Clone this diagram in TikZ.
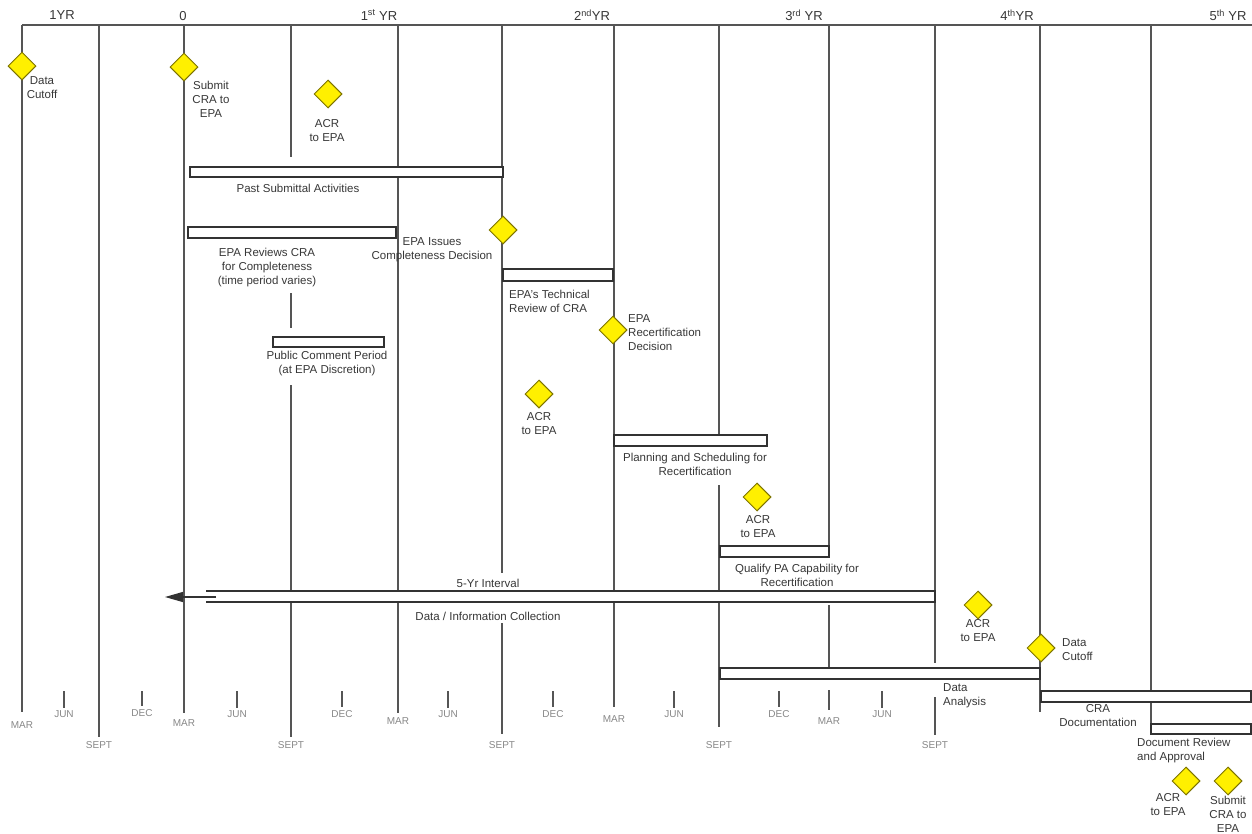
\documentclass[tikz,border=0pt]{standalone}
\usepackage{fontspec}
\setmainfont{Liberation Sans}
\usetikzlibrary{shapes.geometric, arrows.meta}
\definecolor{msfill}{RGB}{255,240,0}
\definecolor{msedge}{RGB}{125,115,0}
\definecolor{gridgray}{RGB}{85,85,85}
\definecolor{barline}{RGB}{50,50,50}
\definecolor{txt}{RGB}{55,55,55}
\definecolor{mongray}{RGB}{135,135,135}

\begin{document}
\begin{tikzpicture}[x=1pt, y=-1pt,
	ms/.style={diamond, draw=msedge, fill=msfill, line width=1pt, minimum width=28pt, minimum height=28pt, inner sep=0pt},
	bar/.style={draw=barline, fill=white, line width=1.2pt},
	yrline/.style={draw=gridgray, line width=1.3pt},
	lbl/.style={text=txt, font=\fontsize{11.5}{14}\selectfont, align=center, inner sep=0pt},
	mon/.style={text=mongray, font=\fontsize{10}{12}\selectfont, inner sep=0pt},
	yr/.style={text=txt, font=\fontsize{13}{15}\selectfont, inner sep=0pt}]
	\useasboundingbox (0,0) rectangle (1252,833);

	% year header
	\begin{scope}
		\draw[yrline] (22,25) -- (1252,25);
		\node[yr] (yrm1) at (62,15) {1YR};
		\node[yr] (yr0) at (183,16) {0};
		\node[yr] (yr1) at (379,15) {1\textsuperscript{st} YR};
		\node[yr] (yr2) at (592,15) {2\textsuperscript{nd}YR};
		\node[yr] (yr3) at (804,15) {3\textsuperscript{rd} YR};
		\node[yr] (yr4) at (1017,15) {4\textsuperscript{th}YR};
		\node[yr] (yr5) at (1228,15) {5\textsuperscript{th} YR};
	\end{scope}

	% month lines
	\draw[yrline] (22,25) -- (22,712);
	\draw[yrline] (99,25) -- (99,737);
	\draw[yrline] (184,25) -- (184,713);
	\draw[yrline] (291,25) -- (291,157);
	\draw[yrline] (291,293) -- (291,328);
	\draw[yrline] (291,385) -- (291,737);
	\draw[yrline] (398,25) -- (398,713);
	\draw[yrline] (502,25) -- (502,573);
	\draw[yrline] (502,623) -- (502,734);
	\draw[yrline] (614,25) -- (614,707);
	\draw[yrline] (719,25) -- (719,435);
	\draw[yrline] (719,485) -- (719,727);
	\draw[yrline] (829,25) -- (829,546);
	\draw[yrline] (829,605) -- (829,668);
	\draw[yrline] (935,25) -- (935,591);
	\draw[yrline] (935,603) -- (935,663);
	\draw[yrline] (935,697) -- (935,735);
	\draw[yrline] (1040,25) -- (1040,712);
	\draw[yrline] (1151,25) -- (1151,724);

	% short ticks
	\draw[yrline] (64,691) -- (64,708);
	\draw[yrline] (142,691) -- (142,706);
	\draw[yrline] (237,691) -- (237,708);
	\draw[yrline] (342,691) -- (342,707);
	\draw[yrline] (448,691) -- (448,708);
	\draw[yrline] (553,691) -- (553,707);
	\draw[yrline] (674,691) -- (674,708);
	\draw[yrline] (779,691) -- (779,707);
	\draw[yrline] (829,690) -- (829,710);
	\draw[yrline] (882,691) -- (882,708);

	% month names
	\node[mon] (mar0) at (22,725) {MAR};
	\node[mon] (jun0) at (64,714) {JUN};
	\node[mon] (sep0) at (99,745) {SEPT};
	\node[mon] (dec0) at (142,713) {DEC};
	\node[mon] (mar1) at (184,723) {MAR};
	\node[mon] (jun1) at (237,714) {JUN};
	\node[mon] (sep1) at (291,745) {SEPT};
	\node[mon] (dec1) at (342,714) {DEC};
	\node[mon] (mar2) at (398,721) {MAR};
	\node[mon] (jun2) at (448,714) {JUN};
	\node[mon] (sep2) at (502,745) {SEPT};
	\node[mon] (dec2) at (553,714) {DEC};
	\node[mon] (mar3) at (614,719) {MAR};
	\node[mon] (jun3) at (674,714) {JUN};
	\node[mon] (sep3) at (719,745) {SEPT};
	\node[mon] (dec3) at (779,714) {DEC};
	\node[mon] (mar4) at (829,721) {MAR};
	\node[mon] (jun4) at (882,714) {JUN};
	\node[mon] (sep4) at (935,745) {SEPT};

	% activity bars
	\draw[bar] (190,167) rectangle (503,177);
	\draw[bar] (188,227) rectangle (396,238);
	\draw[bar] (503,269) rectangle (613,281);
	\draw[bar] (273,337) rectangle (384,347);
	\draw[bar] (614,435) rectangle (767,446);
	\draw[bar] (720,546) rectangle (829,557);
	\fill[white] (206,591) rectangle (935,602);
	\draw[bar] (206,591) -- (935,591) -- (935,602) -- (206,602);
	\draw[bar] (720,668) rectangle (1040,679);
	\draw[bar] (1041,691) rectangle (1251,702);
	\draw[bar] (1151,724) rectangle (1251,734);
	\coordinate (itvstart) at (216,597);
	\coordinate (itvtip) at (165,597);
	\draw[draw=barline, line width=1.2pt, -{Triangle[length=18pt,width=10pt]}] (itvstart) -- (itvtip);

	\node[lbl] (pastl) at (298,188) {Past Submittal Activities};
	\node[lbl] (reviewl) at (267,268) {EPA Reviews CRA\\for Completeness\\(time period varies)};
	\node[lbl, anchor=west, align=left] (techl) at (509,301) {EPA's Technical\\Review of CRA};
	\node[lbl] (publicl) at (327,364) {Public Comment Period\\(at EPA Discretion)};
	\node[lbl] (planl) at (695,464) {Planning and Scheduling for\\Recertification};
	\node[lbl] (quall) at (797,575) {Qualify PA Capability for\\Recertification};
	\node[lbl] (itvl) at (488,583) {5-Yr Interval};
	\node[lbl] (collectl) at (488,616) {Data / Information Collection};
	\node[lbl, anchor=west, align=left] (analysisl) at (943,696) {Data\\Analysis};
	\node[lbl] (cradocl) at (1098,716) {CRA\\Documentation};
	\node[lbl, anchor=west, align=left] (docrevl) at (1137,751) {Document Review\\and Approval};

	% milestones
	\node[ms] (cutoff0) at (22,66) {};
	\node[lbl] at (42,88) (cutoff0l) {Data\\Cutoff};
	\node[ms] (submit0) at (184,67) {};
	\node[lbl] (submit0l) at (211,99) {Submit\\CRA to\\EPA};
	\node[ms] (acr1) at (328,94) {};
	\node[lbl] (acr1l) at (327,131) {ACR\\to EPA};
	\node[ms] (issue) at (503,230) {};
	\node[lbl] (issuel) at (432,250) {EPA Issues\\Completeness Decision};
	\node[ms] (recert) at (613,330) {};
	\node[lbl, anchor=west, align=left] (recertl) at (628,333) {EPA\\Recertification\\Decision};
	\node[ms] (acr2) at (539,394) {};
	\node[lbl] (acr2l) at (539,424) {ACR\\to EPA};
	\node[ms] (acr3) at (757,497) {};
	\node[lbl] (acr3l) at (758,527) {ACR\\to EPA};
	\node[ms] (acr4) at (978,605) {};
	\node[lbl] (acr4l) at (978,631) {ACR\\to EPA};
	\node[ms] (cutoff5) at (1041,648) {};
	\node[lbl, anchor=west, align=left] (cutoff5l) at (1062,650) {Data\\Cutoff};
	\node[ms] (acr5) at (1186,781) {};
	\node[lbl] (acr5l) at (1168,805) {ACR\\to EPA};
	\node[ms] (submit5) at (1228,781) {};
	\node[lbl] (submit5l) at (1228,814) {Submit\\CRA to\\EPA};
\end{tikzpicture}
\end{document}
